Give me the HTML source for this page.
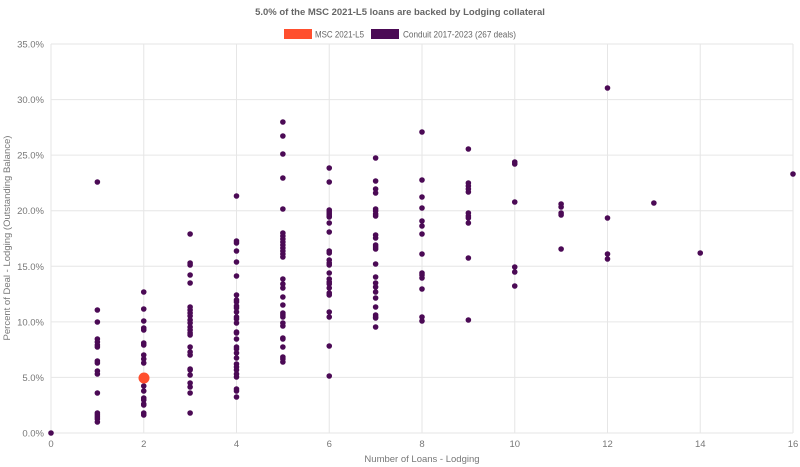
<!DOCTYPE html>
<html><head><style>body{margin:0;background:#fff}svg{display:block;font-family:"Liberation Sans",sans-serif}</style></head><body>
<svg width="800" height="467" xmlns="http://www.w3.org/2000/svg">
<text x="400" y="15" text-anchor="middle" font-size="9.5" font-weight="bold" fill="#666">5.0% of the MSC 2021-L5 loans are backed by Lodging collateral</text>
<rect x="284" y="29" width="28" height="10" fill="#ff4f2e"/><text x="315" y="37.5" font-size="9" fill="#666" textLength="49" lengthAdjust="spacingAndGlyphs">MSC 2021-L5</text>
<rect x="371" y="29" width="28" height="10" fill="#4b0a55"/><text x="403" y="37.5" font-size="9" fill="#666" textLength="113" lengthAdjust="spacingAndGlyphs">Conduit 2017-2023 (267 deals)</text>
<g stroke="#e6e6e6" stroke-width="1" id="grid"></g>
<g font-size="9.5" fill="#777" id="lab"></g>
<text x="422" y="462" text-anchor="middle" font-size="9.5" fill="#777">Number of Loans - Lodging</text>
<text transform="translate(10,238) rotate(-90)" text-anchor="middle" font-size="9.5" fill="#777">Percent of Deal - Lodging (Outstanding Balance)</text>
<g fill="#4b0a55" id="dots"></g>
<circle cx="144" cy="378" r="5.5" fill="#ff4f2e"/>
<script>
var ns="http://www.w3.org/2000/svg",g=document.getElementById('grid'),l=document.getElementById('lab'),d=document.getElementById('dots');
function el(p,t,a,s){var e=document.createElementNS(ns,t);for(var k in a)e.setAttribute(k,a[k]);if(s!=null)e.textContent=s;p.appendChild(e);}
for(var i=0;i<=7;i++){var y=433-i*55.57;el(g,'line',{x1:51,x2:793,y1:y,y2:y});el(l,'text',{x:44,y:y+3.5,'text-anchor':'end'},(i*5).toFixed(1)+'%');}
for(var i=0;i<=16;i+=2){var x=51+i*46.375;el(g,'line',{x1:x,x2:x,y1:44,y2:433});el(l,'text',{x:x,y:447,'text-anchor':'middle'},i);}
var data={0:[433],1:[182,310,322,339,342,345,347,361,363,371,374,393,413,415,417,419,422],
2:[292,309,321,328,330,343,345,355,359,363,386,391,398,400,404,405,413,415],
3:[234,263,265,275,283,307,310,313,316,320,323,327,330,333,335,347,352,355,369,370,375,383,387,393,413],
4:[196,241,243,251,262,276,295,300,302,306,308,312,317,319,323,332,333,339,347,349,353,358,364,367,370,374,377,389,391,397],
5:[122,136,154,178,209,233,236,239,242,245,248,251,254,257,279,284,288,297,305,313,315,317,323,326,338,339,347,357,359,362],
6:[168,182,210,212,214,216,217,223,232,251,253,260,263,265,273,279,282,284,288,293,295,312,317,346,376],
7:[158,181,189,193,209,211,214,216,235,238,245,247,249,264,277,283,287,292,298,307,315,317,318,327],
8:[132,180,197,208,221,226,234,254,273,275,278,289,317,321],
9:[149,183,186,189,192,213,216,218,223,258,320],
10:[162,164,202,267,272,286],11:[204,207,213,215,249],12:[88,218,254,259],13:[203],14:[253],16:[174]};
for(var k in data){var x=51+k*46.375;data[k].forEach(function(y){el(d,'circle',{cx:x,cy:y,r:2.8});});}
</script>
</svg>
</body></html>
